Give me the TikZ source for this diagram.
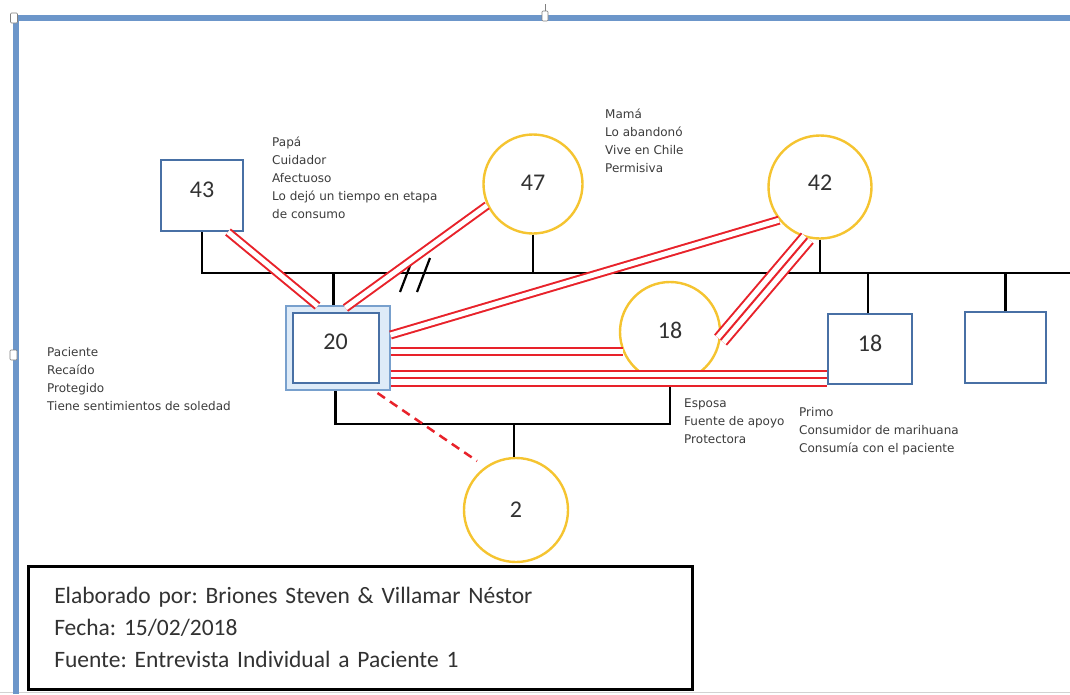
\documentclass[tikz,border=0pt]{standalone}
\usepackage{fontspec}
\setmainfont{Carlito}
\newfontfamily\notefont{DejaVu Sans}
\usetikzlibrary{calc}
\frenchspacing

\definecolor{relred}{RGB}{232,34,42}
\definecolor{framecol}{RGB}{108,150,202}
\definecolor{boxblue}{RGB}{72,112,165}
\definecolor{boxlight}{RGB}{120,160,205}
\definecolor{boxfill}{RGB}{222,235,248}
\definecolor{femgold}{RGB}{245,196,48}
\definecolor{numgray}{RGB}{50,50,50}
\definecolor{notegray}{RGB}{60,60,60}

\begin{document}
\begin{tikzpicture}[x=1pt,y=-1pt,
  male/.style={draw=boxblue, line width=2, fill=white, inner sep=0pt,
    font=\fontsize{24}{26}\selectfont, text=numgray},
  female/.style={circle, draw=femgold, line width=2.4, fill=white, inner sep=0pt,
    font=\fontsize{24}{26}\selectfont, text=numgray},
  note/.style={anchor=north west, align=left, inner sep=0pt, text=notegray,
    font=\notefont\fontsize{12}{18}\selectfont},
  kin/.style={draw=black, line width=2.2},
  dbl/.style={draw=relred, line width=2, double=white, double distance=5},
  tpl/.style={draw=relred, line width=2,
    preaction={draw=relred, line width=17},
    preaction={draw=white, line width=13}},
  handle/.style={draw=gray, fill=white, line width=0.6, rounded corners=1}]

\useasboundingbox (0,0) rectangle (1070,694);
\fill[white] (0,0) rectangle (1070,694);

% page frame with its selection handles
\draw[gray!35, line width=1] (0,692) -- (1070,692);
\draw[framecol, line width=6] (16,694) -- (16,17.5) -- (1070,17.5);
\draw[gray, line width=0.6] (545,4) -- (545,11);
\draw[handle] (542,11) rectangle (548,21);
\draw[handle] (10.5,13) rectangle (17.5,23);
\draw[handle] (10,350) rectangle (17,360);

% parents
\node[male, minimum width=82, minimum height=71, text depth=12] (n43) at (202,195.5) {43};
\node[female, minimum size=99, text depth=2] (c47) at (533,184) {47};
\node[female, minimum size=103, text depth=8] (c42) at (820,187) {42};

% patient (double box) and its generation
\node[male, draw=boxlight, fill=boxfill, minimum width=104, minimum height=84] (p20) at (337.5,348) {};
\node[male, minimum width=86, minimum height=70, text depth=12] (p20i) at (335.5,348) {20};
\node[female, minimum size=100, text depth=4] (c18) at (670,332) {18};
\node[male, minimum width=84, minimum height=70, text depth=12] (s18) at (870,349) {18};
\node[male, minimum width=81, minimum height=71] (sib) at (1005.5,347.5) {};
\node[female, minimum size=104] (c2) at (516,510) {2};

% kinship lines
\coordinate (hl) at (1070,273);
\draw[kin] (n43.south) -- (n43.south |- hl) -- (hl);
\draw[kin] (c47.south) -- (c47.south |- hl);
\draw[kin] (c42.south) -- (c42.south |- hl);
\draw[kin] ($(p20.north)+(-4,0)$) -- ($(p20.north |- hl)+(-4,0)$);
\draw[kin] ($(s18.north)+(-2,0)$) -- ($(s18.north |- hl)+(-2,0)$);
\draw[kin] (sib.north) -- (sib.north |- hl);
\draw[kin] ($(p20.south)+(-2,0)$) -- ++(0,33) coordinate (kl) -| (c18.south);
\draw[kin] ($(c2.north)+(-2,0)$) -- ($(c2.north |- kl)+(-2,0)$);
% separation mark
\draw[kin] (400,292) -- (413,258);
\draw[kin] (417,292) -- (430,258);

% emotional relations
\draw[dbl] ($(n43.south)+(26,0)$) -- ($(p20.north)+(-20,1)$);
\draw[dbl] (c47.205) -- ($(p20.north)+(8,3)$);
\draw[dbl] (c42.219) -- ($(p20.east)+(0,-13)$);
\draw[tpl] (c42.256) -- (c18.-9);
\draw[dbl] (p20.east |- c18.202) -- (c18.202);
\coordinate (pr) at ($(s18.south west)+(0,-7)$);
\draw[tpl] (p20.east |- pr) -- (pr);
\coordinate (kidend) at (477,461);
\draw[relred, line width=2.5, dash pattern=on 9 off 6] ($(p20.south east)+(-13,2)$) -- (kidend);

% notes
\node[note] (npapa) at (272,137) {Papá\\Cuidador\\Afectuoso\\Lo dejó un tiempo en etapa\\de consumo};
\node[note] (nmama) at (605,109) {Mamá\\Lo abandonó\\Vive en Chile\\Permisiva};
\node[note] (npac) at (47,347) {Paciente\\Recaído\\Protegido\\Tiene sentimientos de soledad};
\node[note] (nesp) at (684,399) {Esposa\\Fuente de apoyo\\Protectora};
\node[note] (nprimo) at (799,407) {Primo\\Consumidor de marihuana\\Consumía con el paciente};

% credits box
\node[draw=black, line width=2.5, anchor=north west, text width=612, inner xsep=26,
  minimum height=123, align=left, font=\fontsize{23.5}{32}\selectfont, text=numgray] (info) at (27,565)
  {Elaborado por: Briones Steven \& Villamar Néstor\\Fecha: 15/02/2018\\Fuente: Entrevista Individual a Paciente 1};
\end{tikzpicture}
\end{document}
